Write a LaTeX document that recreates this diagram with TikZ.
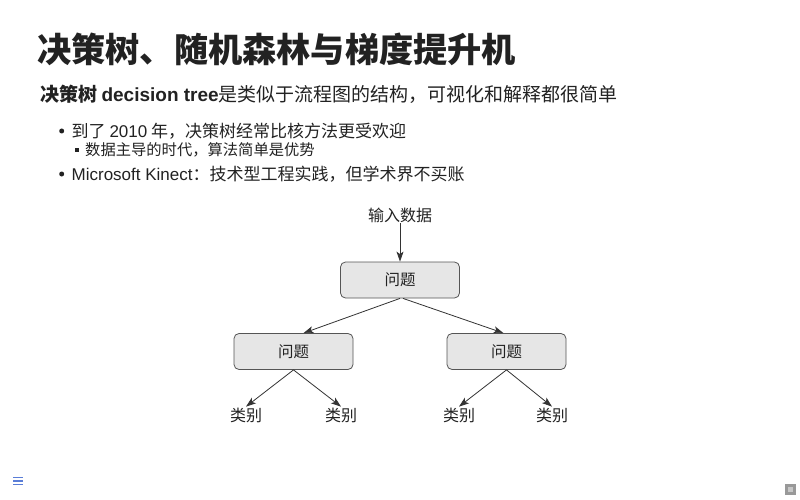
\documentclass[tikz,border=0pt]{standalone}
\usepackage{fontspec}
\setmainfont{Noto Sans CJK SC}
\newfontfamily\lat{Liberation Sans}
\usetikzlibrary{arrows.meta}
\definecolor{txt}{HTML}{222222}
\definecolor{linec}{HTML}{333333}
\definecolor{boxfill}{HTML}{E6E6E6}
\definecolor{boxline}{HTML}{555555}
\definecolor{menublue}{RGB}{90,125,215}
\begin{document}
\begin{tikzpicture}[x=1pt,y=-1pt,
  txtnode/.style={anchor=west, inner sep=0pt, text=txt},
  dot/.style={circle, fill=txt, inner sep=0pt, minimum size=5pt},
  sq/.style={rectangle, fill=txt, inner sep=0pt, minimum size=4pt},
  qbox/.style={draw=boxline, fill=boxfill, rounded corners=5pt, minimum width=119pt, minimum height=36pt, line width=0.8pt, text=txt, font=\fontsize{15.5}{17}\selectfont},
  lab/.style={inner sep=0pt, outer sep=1pt, text=txt, font=\fontsize{16}{18}\selectfont},
  arr/.style={-{Stealth[length=10pt,width=7pt,inset=2.5pt]}, line width=0.8pt, draw=linec}]
\useasboundingbox (0,0) rectangle (800,500);
\fill[white] (0,0) rectangle (800,500);

% title
\node[txtnode, font=\fontsize{34.2}{38}\selectfont\bfseries] (title) at (37,49) {决策树、随机森林与梯度提升机};
% subtitle
\node[txtnode, font=\fontsize{19}{22}\selectfont] (subtitle) at (40,94) {\textbf{决策树 {\lat decision tree}}是类似于流程图的结构，可视化和解释都很简单};

% bullets
\node[dot] (b1) at (61.7,131) {};
\node[txtnode, font=\fontsize{17}{20}\selectfont] (t1) at (71.5,131) {到了 {\lat 2010} 年，决策树经常比核方法更受欢迎};
\node[sq] (b2) at (76.7,149.5) {};
\node[txtnode, font=\fontsize{15.3}{18}\selectfont] (t2) at (85,149.5) {数据主导的时代，算法简单是优势};
\node[dot] (b3) at (61.7,174) {};
\node[txtnode, font=\fontsize{17}{20}\selectfont] (t3) at (71.5,174) {{\lat Microsoft Kinect}：技术型工程实践，但学术界不买账};

% diagram
\node[lab] (in) at (400,215) {输入数据};
\node[qbox] (q0) at (400,280) {问题};
\node[qbox] (q1) at (293.5,351.5) {问题};
\node[qbox] (q2) at (506.5,351.5) {问题};
\node[lab] (c1) at (246,415) {类别};
\node[lab] (c2) at (341,415) {类别};
\node[lab] (c3) at (459,415) {类别};
\node[lab] (c4) at (552,415) {类别};

\draw[arr] (in) -- (q0);
\draw[arr] (q0.south) -- ([xshift=10pt]q1.north);
\draw[arr] ([xshift=3pt]q0.south) -- ([xshift=-3pt]q2.north);
\draw[arr] (q1.south) -- (c1.north);
\draw[arr] (q1.south) -- (c2.north);
\draw[arr] (q2.south) -- (c3.north);
\draw[arr] (q2.south) -- (c4.north);

% menu icon
\draw[menublue, line width=1.3pt] (13,477.5) -- (23,477.5) (13,481) -- (23,481) (13,484.5) -- (23,484.5);
% page box
\fill[black!40] (785,484) rectangle (796,495);
\fill[black!22] (788,487) rectangle (793,492);
\end{tikzpicture}
\end{document}
